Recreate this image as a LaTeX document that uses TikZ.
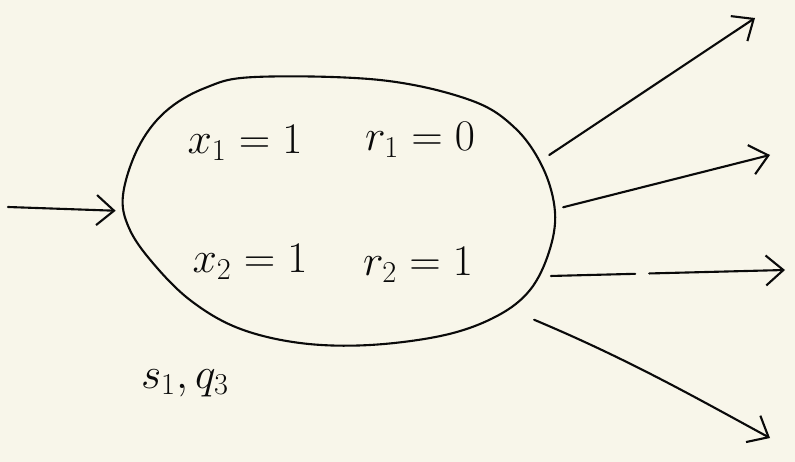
\documentclass[tikz,border=0pt]{standalone}
\usepackage{amsmath, amssymb}
\usepackage{xcolor}
\usetikzlibrary{arrows.meta, positioning, shapes.geometric, calc}
\definecolor{sketchPaper}{RGB}{248,246,234}
\definecolor{sketchInk}{RGB}{10,10,10}

\begin{document}
\begin{tikzpicture}[x=0.02cm, y=-0.02cm,
    ink/.style={draw=sketchInk, line width=1.2pt, line cap=round},
    hand/.style={ink, -{Straight Barb[length=3.5mm, width=6mm, line width=1.2pt]}},
    lbl/.style={font=\fontsize{24}{28}\selectfont, text=sketchInk}]
        \fill[sketchPaper] (0,0) rectangle (795,462);
        \useasboundingbox (0,0) rectangle (795,462);
        \node[ellipse, minimum width=8.6cm, minimum height=5.3cm] (state) at (338,211) {};
        \draw[ink] plot[smooth cycle, tension=0.6] coordinates {(123,195) (138,148) (165,112) (205,88) (255,77)
            (380,80) (470,100) (515,128) (543,168) (555,212) (549,252) (530,290) (497,316) (445,335)
            (370,345) (300,343) (238,328) (190,300) (152,262) (129,228)};
        \node[lbl] (x1) at (245,143) {$x_1=1$};
        \node[lbl] (r1) at (420,140) {$r_1=0$};
        \node[lbl] (x2) at (250,262) {$x_2=1$};
        \node[lbl] (r2) at (418,265) {$r_2=1$};
        \node[lbl] (sq) at (185,383) {$s_1,q_3$};
        \coordinate (in) at (8,207);
        \coordinate (o1) at (755,18);
        \coordinate (o2) at (770,155);
        \coordinate (o3) at (785,270);
        \coordinate (o4) at (770,438);
        \draw[hand, shorten >=4pt] (in) -- (state.180);
        \draw[hand] ([shift={(16,0)}]state.16) -- (o1);
        \draw[hand] ([shift={(10,0)}]state.1) -- (o2);
        \draw[hand, dash pattern=on 48pt off 8pt on 200pt] ([shift={(20,6)}]state.-17) -- (o3);
        \draw[hand] ([shift={(36,20)}]state.-29) .. controls (630,360) and (700,400) .. (o4);
      \end{tikzpicture}
\end{document}
